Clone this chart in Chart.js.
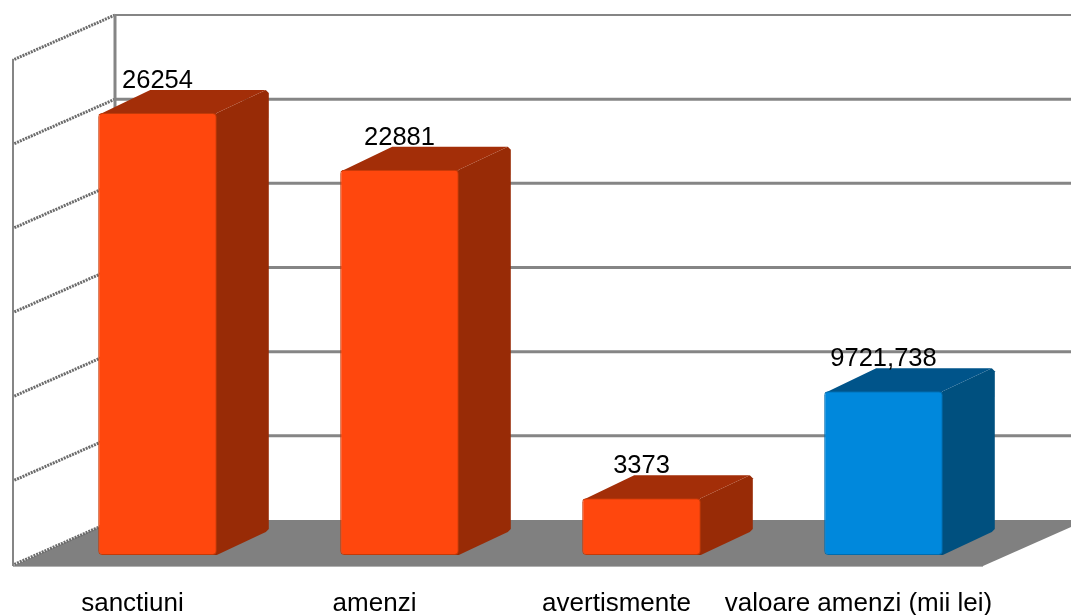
<!DOCTYPE html>
<html>
<head>
<meta charset="utf-8">
<title>Sanctiuni</title>
<script src="https://cdn.jsdelivr.net/npm/chart.js@4/dist/chart.umd.js"></script>
<style>
    html, body { margin: 0; padding: 0; background: #fff; overflow: hidden; }
    canvas { display: block; }
</style>
</head>
<body>
<canvas id="chart" width="1071" height="615"></canvas>
<script>
// Values
var categories = ['sanctiuni', 'amenzi', 'avertismente', 'valoare amenzi (mii lei)'];
var values = [26254, 22881, 3373, 9721.738];
var frontColors = ['#FF470D', '#FF470D', '#FF470D', '#0088DC'];
var edgeColors = ['#C23A08', '#C23A08', '#C23A08', '#006CAE'];
var sideColors = ['#982B06', '#982B06', '#982B06', '#00507F'];
var topColors = ['#A32E08', '#A32E08', '#A32E08', '#00548A'];
var yMax = 30000;
var yStep = 5000;

function polygon(ctx, points, fill) {
    ctx.beginPath();
    ctx.moveTo(points[0][0], points[0][1]);
    for (var i = 1; i < points.length; i++) {
        ctx.lineTo(points[i][0], points[i][1]);
    }
    ctx.closePath();
    ctx.fillStyle = fill;
    ctx.fill();
}

// Walls, floor and grid of the fake 3D box
var wallsPlugin = {
    id: 'walls',
    beforeDatasetsDraw: function (chart) {
        var ctx = chart.ctx;
        var yScale = chart.scales.y;
        var base = yScale.getPixelForValue(0);
        var backY = base - 35;
        var frontY = base + 11;
        var backX = 115;
        var frontX = 13;
        var right = chart.width;

        ctx.save();
        polygon(ctx, [[frontX, frontY], [backX, backY], [right, backY], [right, backY + 7], [983, frontY]], '#808080');

        // light line along the front of the floor
        ctx.strokeStyle = '#B0B0B0';
        ctx.lineWidth = 1;
        ctx.beginPath();
        ctx.moveTo(frontX, frontY + 0.5);
        ctx.lineTo(983, frontY + 0.5);
        ctx.stroke();

        yScale.ticks.forEach(function (tick) {
            var y = yScale.getPixelForValue(tick.value) - 35;
            if (tick.value > 0) {
                ctx.strokeStyle = '#858585';
                ctx.lineWidth = tick.value === yMax ? 2 : 3;
                ctx.beginPath();
                ctx.moveTo(backX, y);
                ctx.lineTo(right, y);
                ctx.stroke();
            }
            // diagonal on the left wall
            ctx.strokeStyle = '#6C6C6C';
            ctx.lineWidth = 3;
            ctx.setLineDash([2, 1]);
            ctx.beginPath();
            ctx.moveTo(backX, y);
            ctx.lineTo(frontX, y + 45);
            ctx.stroke();
            ctx.setLineDash([]);
        });

        // wall edges
        var top = yScale.getPixelForValue(yMax) - 35;
        ctx.strokeStyle = '#858585';
        ctx.lineWidth = 3;
        ctx.beginPath();
        ctx.moveTo(backX, top);
        ctx.lineTo(backX, backY);
        ctx.stroke();
        ctx.lineWidth = 2;
        ctx.beginPath();
        ctx.moveTo(frontX, top + 44);
        ctx.lineTo(frontX, frontY);
        ctx.stroke();

        // side and top faces of the bars, the fronts are the real bars
        var depthX = 52;
        var depthY = -23;
        chart.getDatasetMeta(0).data.forEach(function (bar, i) {
            var half = bar.width / 2;
            var l = bar.x - half;
            var r = bar.x + half;
            polygon(ctx, [
                [r - 5, bar.y + 5],
                [r, bar.y],
                [r + depthX - 3, bar.y + depthY],
                [r + depthX, bar.y + depthY + 3],
                [r + depthX, bar.base + depthY - 3],
                [r + depthX - 3, bar.base + depthY],
                [r, bar.base],
                [r - 5, bar.base]
            ], sideColors[i]);
            polygon(ctx, [
                [l, bar.y + 2],
                [l + depthX, bar.y + depthY],
                [r + depthX - 3, bar.y + depthY],
                [r, bar.y],
                [r - 5, bar.y + 5]
            ], topColors[i]);
        });
        ctx.restore();
    }
};

// Value labels over the bars
var valuesPlugin = {
    id: 'valueLabels',
    afterDatasetsDraw: function (chart) {
        var ctx = chart.ctx;
        ctx.save();
        ctx.fillStyle = '#000';
        ctx.textAlign = 'center';
        ctx.textBaseline = 'alphabetic';
        ctx.font = '25.5px "Liberation Sans"';
        chart.getDatasetMeta(0).data.forEach(function (bar, i) {
            ctx.fillText(String(values[i]).replace('.', ','), bar.x, bar.y - 25);
        });
        ctx.restore();
    }
};

new Chart(document.getElementById('chart'), {
    type: 'bar',
    data: {
        labels: categories,
        datasets: [{
            data: values,
            backgroundColor: frontColors,
            borderColor: edgeColors,
            borderWidth: 1,
            borderRadius: 4,
            borderSkipped: false,
            barPercentage: 0.49,
            categoryPercentage: 1
        }]
    },
    options: {
        responsive: false,
        animation: false,
        layout: { padding: { left: 36.5, right: 66.5, top: 50, bottom: 0 } },
        plugins: {
            legend: { display: false },
            tooltip: { enabled: false }
        },
        scales: {
            x: {
                grid: { display: false, drawTicks: false },
                border: { display: false },
                ticks: {
                    color: '#000',
                    font: { family: '"Liberation Sans"', size: 26 },
                    padding: 33,
                    labelOffset: -25,
                    maxRotation: 0,
                    autoSkip: false
                },
                // keep the plot bottom fixed, labels hang below it
                afterFit: function (scale) {
                    scale.height = 60;
                    scale.paddingLeft = 0;
                    scale.paddingRight = 0;
                }
            },
            y: { display: false, min: 0, max: yMax, ticks: { stepSize: yStep } }
        }
    },
    plugins: [wallsPlugin, valuesPlugin]
});
</script>
</body>
</html>
